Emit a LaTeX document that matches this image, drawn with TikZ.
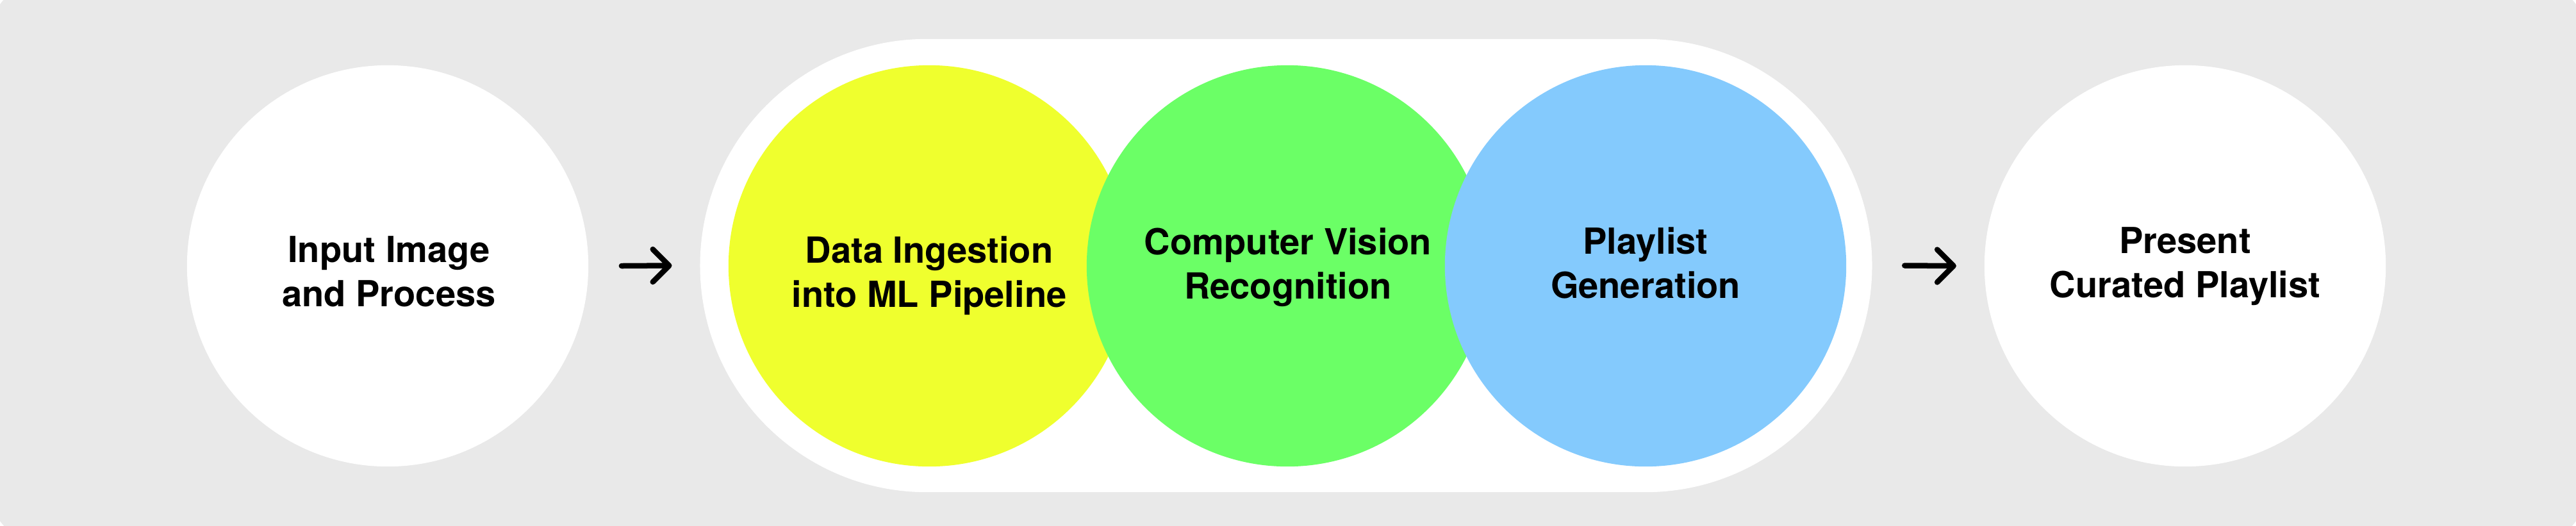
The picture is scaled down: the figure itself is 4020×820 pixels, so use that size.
\documentclass[tikz,border=0pt]{standalone}
\usepackage{fontspec}
\setmainfont{TeX Gyre Heros}
\usetikzlibrary{shapes.misc}
\definecolor{bggray}{HTML}{E9E9E9}
\definecolor{cyellow}{HTML}{EFFF2E}
\definecolor{cgreen}{HTML}{6BFF66}
\definecolor{cblue}{HTML}{84CAFD}
\begin{document}
\begin{tikzpicture}[x=0.01cm,y=-0.01cm,
  circ/.style={circle, minimum size=6.26cm, inner sep=0pt, draw=none},
  lbl/.style={font=\bfseries\fontsize{15.93}{19.35}\selectfont, align=center, inner sep=0pt, anchor=base, text=black},
  arrowline/.style={line width=0.085cm, line cap=round, line join=round, draw=black}]
\useasboundingbox (0,0) rectangle (4020,820);
\fill[white] (0,0) rectangle (4020,820);
\clip (0,0) rectangle (4020,820);
\fill[bggray, rounded corners=1.18cm] (-24,-40) rectangle (4044,860);
% pill container
\node[rounded rectangle, fill=white, minimum width=18.28cm, minimum height=7.07cm, inner sep=0pt] (pill) at (2007,414.5) {};
% circles
\node[circ, fill=white] (c1) at (605,415) {};
\node[circ, fill=cyellow] (c2) at (1450,415) {};
\node[circ, fill=cgreen] (c3) at (2009,415) {};
\node[circ, fill=cblue] (c4) at (2568,415) {};
\node[circ, fill=white] (c5) at (3410,415) {};
% labels (anchor base = baseline of the last line)
\node[lbl] (t1) at (607,478) {Input Image\\and Process};
\node[lbl] (t2) at (1450,479) {Data Ingestion\\into ML Pipeline};
\node[lbl] (t3) at (2010,466) {Computer Vision\\Recognition};
\node[lbl] (t4) at (2568,465) {Playlist\\Generation};
\node[lbl] (t5) at (3410,464) {Present\\Curated Playlist};
% arrows
\draw[arrowline] ([xshift=0.51cm]c1.east) -- ([xshift=-0.475cm]pill.west) coordinate (h1)
  ++(-25.5,-25.5) -- (h1) -- ++(-25.5,25.5);
\draw[arrowline] ([xshift=0.50cm]pill.east) -- ([xshift=-0.475cm]c5.west) coordinate (h2)
  ++(-25.5,-25.5) -- (h2) -- ++(-25.5,25.5);
\end{tikzpicture}
\end{document}
